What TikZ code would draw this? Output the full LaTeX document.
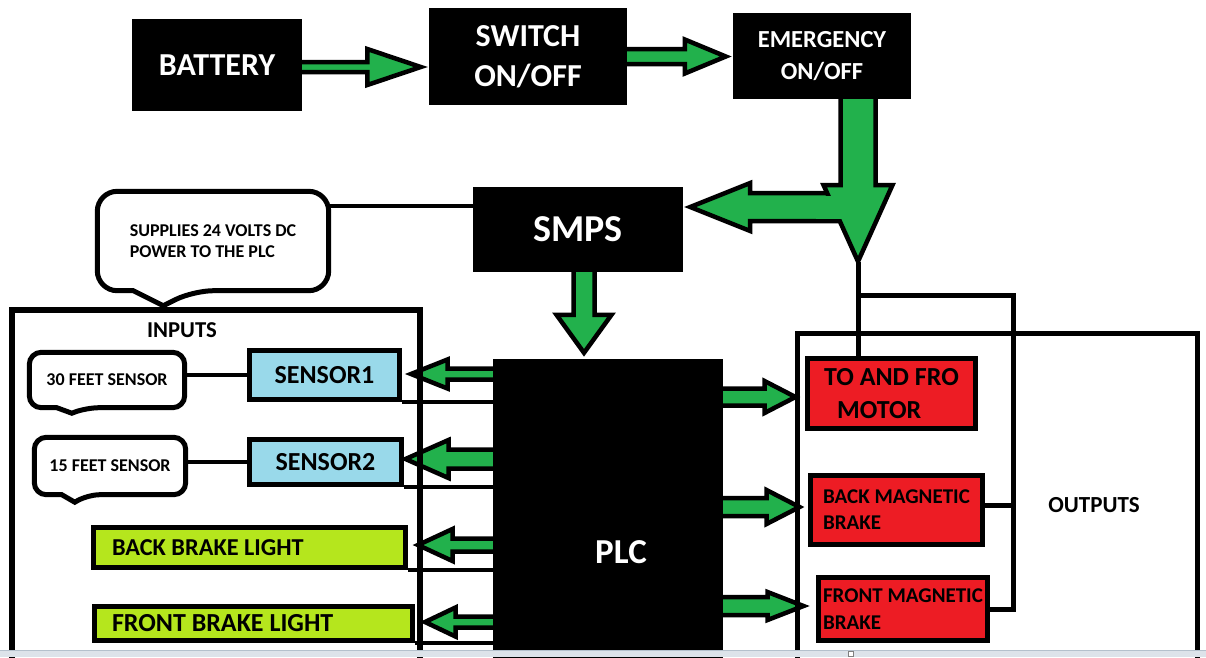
\documentclass[tikz,border=0pt]{standalone}
\usepackage{fontspec}
\setmainfont{Carlito}
\usetikzlibrary{calc}
\definecolor{ag}{HTML}{22B14C}
\definecolor{rb}{HTML}{ED1C24}
\definecolor{lb}{HTML}{99D9EA}
\definecolor{lg}{HTML}{B5E61D}
\definecolor{stripc}{HTML}{DDE3EA}
\definecolor{stripl}{HTML}{B4C0CC}
\newcommand\fz[2]{\fontsize{#1}{#2}\selectfont\bfseries}
\tikzset{
  ashaft/.store in=\ashaft, ahead/.store in=\ahead, alen/.store in=\alen,
  ashaft=6pt, ahead=16pt, alen=36pt,
  barrow/.style={fill=ag, draw=black, line width=4.5pt, line join=miter,
    to path={let \p1=(\tikztostart), \p2=(\tikztotarget),
      \n1={atan2((\y2)-(\y1),(\x2)-(\x1))} in
      ($(\p1)+(\n1+90:\ashaft)$)
      -- ($(\p2)+(\n1+180:\alen)+(\n1+90:\ashaft)$)
      -- ($(\p2)+(\n1+180:\alen)+(\n1+90:\ahead)$)
      -- (\p2)
      -- ($(\p2)+(\n1+180:\alen)+(\n1-90:\ahead)$)
      -- ($(\p2)+(\n1+180:\alen)+(\n1-90:\ashaft)$)
      -- ($(\p1)+(\n1-90:\ashaft)$)}},
  blk/.style={fill=black, text=white, inner sep=0pt},
  cbox/.style={draw=black, line width=5pt, inner sep=0pt, text=black},
  wire/.style={draw=black, line width=4.5pt},
  frame/.style={draw=black, line width=6pt, line join=miter},
  bubble/.style={draw=black, line width=5pt, rounded corners=20pt},
}
\begin{document}
\begin{tikzpicture}[x=1pt,y=-1pt]
\useasboundingbox (0,0) rectangle (1206,657);
\fill[white] (0,0) rectangle (1206,657);

% ---- boxes ----
\node[blk, minimum width=170pt, minimum height=92pt, font=\fz{32}{32}] (batt) at (217,65) {BATTERY\hspace{8pt}};
\node[blk, minimum width=198pt, minimum height=97pt, align=center, font=\fz{32}{40}] (swt) at (528,56.5) {SWITCH\\ON/OFF};
\node[blk, minimum width=178pt, minimum height=86pt, align=center, font=\fz{24.5}{32}] (emg) at (822,56) {EMERGENCY\\ON/OFF};
\node[blk, minimum width=210pt, minimum height=85pt, font=\fz{38}{38}] (smps) at (578,229.5) {SMPS\hspace{50pt}};
\node[blk, minimum width=230pt, minimum height=386pt, font=\fz{35}{35}] (plc) at (608,552) {\hspace{26pt}PLC};

\node[cbox, fill=lb, minimum width=150pt, minimum height=49pt, font=\fz{26}{26}] (s1) at (324.5,375) {SENSOR1\hspace{16pt}};
\node[cbox, fill=lb, minimum width=152pt, minimum height=45pt, font=\fz{26}{26}] (s2) at (325.5,462) {SENSOR2};
\node[cbox, fill=lg, minimum width=312pt, minimum height=40pt, font=\fz{24.3}{24.3}] (bbl) at (249.5,547.5) {\makebox[275pt][l]{BACK BRAKE LIGHT}};
\node[cbox, fill=lg, minimum width=318pt, minimum height=34pt, font=\fz{26}{26}] (fbl) at (253.5,623.5) {\makebox[283pt][l]{FRONT BRAKE LIGHT}};

\node[cbox, fill=rb, minimum width=168pt, minimum height=70pt, align=left, font=\fz{26}{33}] (mot) at (891.5,393.5) {TO AND FRO\\\hspace*{13pt}MOTOR};
\node[cbox, fill=rb, minimum width=172pt, minimum height=69pt, align=left, font=\fz{21}{26}] (bmb) at (896.5,510) {BACK MAGNETIC\\BRAKE};
\node[cbox, fill=rb, minimum width=169pt, minimum height=63pt, align=left, font=\fz{21}{27}] (fmb) at (903,609) {FRONT MAGNETIC\\BRAKE};

\node[font=\fz{22.7}{22.7}] (inl) at (182,330) {INPUTS};
\node[font=\fz{23}{23}] (outl) at (1094,505) {OUTPUTS};

% ---- callouts (text) ----
\node[align=left, font=\fz{18}{21}, minimum width=231pt, minimum height=99pt, inner sep=0pt] (sup) at (213,241) {SUPPLIES 24 VOLTS DC\\POWER TO THE PLC};
\node[font=\fz{18}{18}, minimum width=155pt, minimum height=55pt, inner sep=0pt] (c30) at (107,380) {30 FEET SENSOR\hspace{12pt}};
\node[font=\fz{18}{18}, minimum width=151pt, minimum height=57pt, inner sep=0pt] (c15) at (110,466) {15 FEET SENSOR\hspace{14pt}};

% ---- wires ----
\coordinate (sl) at ($(smps.west)+(0,-23.5)$);
\draw[wire] (sl) -- (sl -| sup.east);
\draw[wire] (s1.west) -- (s1.west -| c30.east);
\draw[wire] (s2.west) -- (s2.west -| c15.east);
\foreach \n in {s1,s2,bbl,fbl} \draw[wire] (\n.south east) -- (\n.south east -| plc.west);

\coordinate (etip) at (858,261.5);
\coordinate (rj) at (1013,295);
\draw[wire, line width=5pt] (etip) -- (etip |- mot.north);
\draw[wire, line width=5pt, line join=miter] (etip |- rj) -- (rj) -- (rj |- fmb.east) -- (fmb.east);
\draw[wire, line width=5pt] ($(bmb.east)+(0,-5)$) -- ($(bmb.east -| rj)+(0,-5)$);

% ---- block arrows ----
\draw[barrow, ashaft=5pt, ahead=18pt, alen=53.5pt] ($(batt.east)+(0,2)$) to ($(batt.east -| swt.west)+(-8,2)$);
\draw[barrow, ashaft=7.5pt, ahead=17pt, alen=41pt] (swt.east) to ($(swt.east -| emg.west)+(-7,0)$);
\coordinate (ej) at (etip |- 0,207);
\draw[barrow, ashaft=14pt, ahead=24pt, alen=60pt] (ej) to ($(ej -| smps.east)+(7,0)$);
\draw[barrow, ashaft=17.5pt, ahead=34.5pt, alen=76.5pt] (emg.south -| etip) to (etip);
\fill[ag] (816,195.5) rectangle (846,218.5);
\draw[barrow, ashaft=10.5pt, ahead=27.5pt, alen=38pt] ($(smps.south)+(6,0)$) to ($(smps.south |- plc.north)+(6,-6)$);

\draw[barrow, ashaft=8.5pt, ahead=16pt, alen=31pt] ($(plc.east |- mot.west)+(0,3.5)$) to ($(mot.west)+(-9.5,3.5)$);
\draw[barrow, ashaft=9pt, ahead=17pt, alen=33pt] ($(plc.east |- bmb.west)+(0,-3)$) to ($(bmb.west)+(-8.5,-3)$);
\draw[barrow, ashaft=9pt, ahead=14pt, alen=36pt] ($(plc.east |- fmb.west)+(0,-3)$) to ($(fmb.west)+(-12.5,-3)$);

\draw[barrow, ashaft=5.5pt, ahead=14.5pt, alen=36.5pt] ($(plc.west |- s1.east)+(0,-1)$) to ($(s1.east)+(9,-1)$);
\draw[barrow, ashaft=9.5pt, ahead=19pt, alen=43pt] ($(plc.west |- s2.east)+(0,-3)$) to ($(s2.east)+(1.5,-3)$);
\draw[barrow, ashaft=6.5pt, ahead=16pt, alen=34.5pt] ($(plc.west |- bbl.east)+(0,-2.5)$) to ($(bbl.east)+(10,-2.5)$);
\draw[barrow, ashaft=5.5pt, ahead=14.5pt, alen=30.5pt] ($(plc.west |- fbl.east)+(0,-1.5)$) to ($(fbl.east)+(10,-1.5)$);

% ---- frames ----
\draw[frame] (11.5,700) -- (11.5,310) -- (420,310) -- (420,700);
\draw[frame, line width=5.5pt] (797.5,700) -- (797.5,333.5) -- (1197.5,333.5) -- (1197.5,700);

% ---- callout outlines ----
\draw[bubble] ($(sup.south west)+(36,0)$) -- (sup.south west) -- (sup.north west) -- (sup.north east) -- (sup.south east) -- ($(sup.south west)+(96,0)$) [sharp corners] -- ($(sup.south west)+(66,15)$) -- cycle;
\draw[bubble, rounded corners=12pt] ($(c30.south west)+(27.5,0)$) -- (c30.south west) -- (c30.north west) -- (c30.north east) -- (c30.south east) -- ($(c30.south west)+(57.5,0)$) [sharp corners] -- ($(c30.south west)+(42.5,5.5)$) -- cycle;
\draw[bubble, rounded corners=12pt] ($(c15.south west)+(27.5,0)$) -- (c15.south west) -- (c15.north west) -- (c15.north east) -- (c15.south east) -- ($(c15.south west)+(53.5,0)$) [sharp corners] -- ($(c15.south west)+(40.5,7.5)$) -- cycle;

% ---- bottom strip ----
\fill[stripc] (0,650) rectangle (1206,657);
\draw[stripl, line width=1pt] (0,650.5) -- (1206,650.5);
\draw[gray, line width=0.8pt, fill=white] (848.5,651) rectangle (853.5,656);
\end{tikzpicture}
\end{document}
